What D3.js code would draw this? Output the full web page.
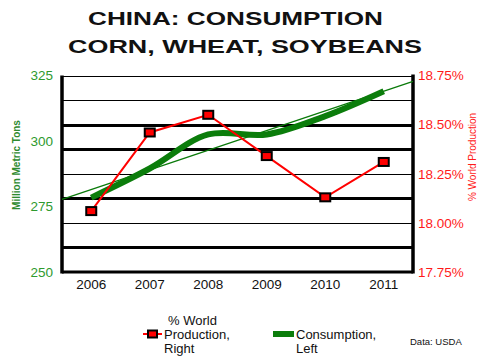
<!DOCTYPE html>
<html>
<head>
<meta charset="utf-8">
<script src="https://cdn.jsdelivr.net/npm/d3@7"></script>
<style>
  body { margin: 0; background: #fff; }
  svg { display: block; font-family: 'Liberation Sans', Arial, sans-serif; }
</style>
</head>
<body>
<svg width="483" height="359"></svg>
<script>
// data
const years = ['2006', '2007', '2008', '2009', '2010', '2011'];
const consumption = [278.4, 289.5, 302.5, 302.5, 309.5, 319];      // million metric tons, left axis
const worldShare = [18.06, 18.46, 18.55, 18.34, 18.13, 18.31];      // % world production, right axis
const leftTicks = [250, 275, 300, 325];
const rightTicks = [17.75, 18.0, 18.25, 18.5, 18.75];
const gridValues = [17.875, 18.0, 18.125, 18.25, 18.375, 18.5, 18.625, 18.75];
const heavyGrid = [17.875, 18.125, 18.375, 18.5];
const titleLines = ['CHINA: CONSUMPTION', 'CORN, WHEAT, SOYBEANS'];

const svg = d3.select('svg');
const plotLeft = 62, plotRight = 413, plotTop = 75.5, plotBottom = 272;

const x = d3.scaleBand().domain(years).range([plotLeft, plotRight]);
const xc = function (d) { return x(d) + x.bandwidth() / 2; };
const yL = d3.scaleLinear().domain([250, 325]).range([plotBottom, plotTop]);
const yR = d3.scaleLinear().domain([17.75, 18.75]).range([plotBottom, plotTop]);

// title (wide, stretched lettering)
const titleBox = [{ x: 88, y: 25, w: 295 }, { x: 68, y: 52.5, w: 354 }];
svg.append('g')
  .selectAll('text')
  .data(titleLines)
  .enter()
  .append('text')
  .attr('x', function (d, i) { return titleBox[i].x; })
  .attr('y', function (d, i) { return titleBox[i].y; })
  .attr('textLength', function (d, i) { return titleBox[i].w; })
  .attr('lengthAdjust', 'spacingAndGlyphs')
  .style('font-size', '17.5px')
  .style('font-weight', 'bold')
  .attr('fill', '#111')
  .text(function (d) { return d; });

// grid
svg.append('g')
  .selectAll('line')
  .data(gridValues)
  .enter()
  .append('line')
  .attr('x1', plotLeft)
  .attr('x2', plotRight)
  .attr('y1', function (d) { return Math.round(yR(d)) + 0.5; })
  .attr('y2', function (d) { return Math.round(yR(d)) + 0.5; })
  .attr('stroke', '#000')
  .attr('stroke-width', function (d) { return heavyGrid.indexOf(d) >= 0 ? 3 : 1.2; });

// frame
svg.append('line').attr('x1', plotLeft).attr('x2', plotLeft).attr('y1', plotTop).attr('y2', plotBottom + 1.5)
  .attr('stroke', '#000').attr('stroke-width', 3.5);
svg.append('line').attr('x1', plotRight).attr('x2', plotRight).attr('y1', plotTop - 1).attr('y2', plotBottom + 1.5)
  .attr('stroke', '#000').attr('stroke-width', 3.5);
svg.append('line').attr('x1', plotLeft).attr('x2', plotRight).attr('y1', plotBottom).attr('y2', plotBottom)
  .attr('stroke', '#000').attr('stroke-width', 3);

// axes labels
const xAxis = svg.append('g')
  .attr('transform', 'translate(0,' + (plotBottom + 3) + ')')
  .call(d3.axisBottom(x).tickSize(0).tickPadding(4));
xAxis.select('.domain').remove();
xAxis.selectAll('text').style('font-size', '13.5px').attr('fill', '#111')
  .style('font-family', "'Liberation Sans', Arial, sans-serif");

const yAxisL = svg.append('g')
  .attr('transform', 'translate(' + (plotLeft - 9) + ',0)')
  .call(d3.axisLeft(yL).tickValues(leftTicks).tickSize(0).tickPadding(0));
yAxisL.select('.domain').remove();
yAxisL.selectAll('text').style('font-size', '13.5px').attr('fill', '#2e9a2e')
  .style('font-family', "'Liberation Sans', Arial, sans-serif");

const yAxisR = svg.append('g')
  .attr('transform', 'translate(' + (plotRight + 5) + ',0)')
  .call(d3.axisRight(yR).tickValues(rightTicks).tickSize(0).tickPadding(0)
    .tickFormat(function (d) { return d3.format('.2f')(d) + '%'; }));
yAxisR.select('.domain').remove();
yAxisR.selectAll('text').style('font-size', '13.5px').attr('fill', '#ff1a1a')
  .style('font-family', "'Liberation Sans', Arial, sans-serif");

svg.append('text')
  .attr('transform', 'translate(20,' + 165 + ') rotate(-90)')
  .attr('text-anchor', 'middle')
  .style('font-size', '10px')
  .style('font-weight', 'bold')
  .attr('fill', '#2e8a2e')
  .text('Million Metric Tons');

svg.append('text')
  .attr('transform', 'translate(476,' + 157 + ') rotate(-90)')
  .attr('text-anchor', 'middle')
  .style('font-size', '10px')
  .attr('fill', '#ff1a1a')
  .text('% World Production');

// trend line of consumption (least squares)
const idx = years.map(function (d, i) { return i; });
const mx = d3.mean(idx), my = d3.mean(consumption);
const slope = d3.sum(idx, function (i) { return (i - mx) * (consumption[i] - my); }) /
  d3.sum(idx, function (i) { return (i - mx) * (i - mx); });
const xi = d3.scaleLinear().domain([-0.5, years.length - 0.5]).range([plotLeft, plotRight]);
svg.append('line')
  .attr('x1', xi(-0.5))
  .attr('x2', xi(years.length - 0.5))
  .attr('y1', yL(my + slope * (-0.5 - mx)))
  .attr('y2', yL(my + slope * (years.length - 0.5 - mx)))
  .attr('stroke', '#0a7a0a')
  .attr('stroke-width', 1.3);

// consumption line
svg.append('path')
  .datum(consumption)
  .attr('fill', 'none')
  .attr('stroke', '#0b7d0b')
  .attr('stroke-width', 6)
  .attr('stroke-linejoin', 'round')
  .attr('d', d3.line()
    .x(function (d, i) { return xc(years[i]); })
    .y(function (d) { return yL(d); })
    .curve(d3.curveCatmullRom.alpha(0.5)));

// world share line with markers
svg.append('path')
  .datum(worldShare)
  .attr('fill', 'none')
  .attr('stroke', '#ff0000')
  .attr('stroke-width', 2)
  .attr('d', d3.line()
    .x(function (d, i) { return xc(years[i]); })
    .y(function (d) { return yR(d); }));

svg.append('g')
  .selectAll('rect')
  .data(worldShare)
  .enter()
  .append('rect')
  .attr('x', function (d, i) { return xc(years[i]) - 5; })
  .attr('y', function (d) { return yR(d) - 4; })
  .attr('width', 10)
  .attr('height', 8)
  .attr('fill', '#ff0000')
  .attr('stroke', '#000')
  .attr('stroke-width', 2);

// legend
const legend = svg.append('g').style('font-size', '13px').attr('fill', '#111');
legend.append('line').attr('x1', 143).attr('x2', 162).attr('y1', 334).attr('y2', 334)
  .attr('stroke', '#ff0000').attr('stroke-width', 2);
legend.append('rect').attr('x', 148).attr('y', 330.5).attr('width', 9).attr('height', 7)
  .attr('fill', '#ff0000').attr('stroke', '#000').attr('stroke-width', 2);
legend.append('text').attr('x', 168).attr('y', 325).text('% World');
legend.append('text').attr('x', 164).attr('y', 339).text('Production,');
legend.append('text').attr('x', 164).attr('y', 353).text('Right');

legend.append('line').attr('x1', 273).attr('x2', 294).attr('y1', 334).attr('y2', 334)
  .attr('stroke', '#0b7d0b').attr('stroke-width', 6);
legend.append('text').attr('x', 296).attr('y', 339).text('Consumption,');
legend.append('text').attr('x', 296).attr('y', 353).text('Left');

svg.append('text')
  .attr('x', 410)
  .attr('y', 345)
  .style('font-size', '9.5px')
  .attr('fill', '#111')
  .text('Data: USDA');
</script>
</body>
</html>
